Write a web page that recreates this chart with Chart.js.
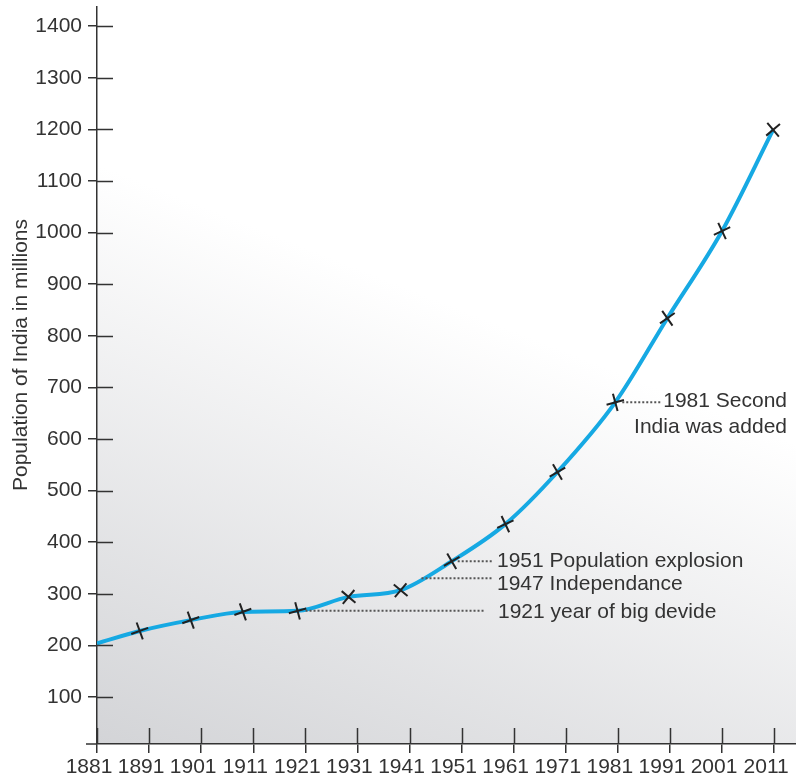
<!DOCTYPE html>
<html>
<head>
<meta charset="utf-8">
<script src="https://cdn.jsdelivr.net/npm/chart.js@4/dist/chart.umd.min.js"></script>
<style>
  html, body { margin: 0; padding: 0; background: #ffffff; }
  #wrap { width: 796px; height: 781px; position: relative; }
</style>
</head>
<body>
<div id="wrap"><canvas id="c"></canvas></div>
<script>
// ---- data ----
const censusYears = [1881, 1889.2, 1899, 1909, 1919.5, 1929.3, 1939.3, 1949.1, 1959.4, 1969.4, 1980.5, 1990.5, 2001, 2010.8];
const populationMillions = [204, 228, 249, 265, 267, 294, 307, 363, 435, 536, 671, 834, 1003, 1199];
const xTickLabels = [1881, 1891, 1901, 1911, 1921, 1931, 1941, 1951, 1961, 1971, 1981, 1991, 2001, 2011];
const yTickLabels = [100, 200, 300, 400, 500, 600, 700, 800, 900, 1000, 1100, 1200, 1300, 1400];
const yTitle = 'Population of India in millions';
const noteTexts = [
  ['1981 Second', 'India was added'],
  ['1951 Population explosion'],
  ['1947 Independance'],
  ['1921 year of big devide']
];
const noteAnchorYears = [1980.5, 1949.1, 1943.3, 1919.5];
const noteAnchorValues = [671, 363, 330, 267];

// ---- styles ----
const FONT = '"Liberation Sans", Arial, Helvetica, sans-serif';
const INK = '#333333';
const markerRotation = [0, -20, -20, -20, -15, 40, 40, -30, -25, -30, -15, -35, -25, -40];
const markerRadius = censusYears.map((y, i) => i === 0 ? 0 : 9);

const points = censusYears.map((x, i) => ({ x: x, y: populationMillions[i] }));

const decor = {
  id: 'decor',
  beforeDraw(chart) {
    const { ctx, chartArea: a } = chart;
    ctx.save();
    const g = ctx.createLinearGradient(a.left, a.bottom, a.left + 200, a.bottom - 500);
    g.addColorStop(0, '#d3d4d7');
    g.addColorStop(1, '#ffffff');
    ctx.fillStyle = g;
    ctx.fillRect(a.left, a.top, a.right - a.left, a.bottom - a.top);
    ctx.restore();
  },
  afterDraw(chart) {
    const { ctx, chartArea: a, scales } = chart;
    const xs = scales.x, ys = scales.y;
    ctx.save();
    // inner halves of the crossing tick marks
    ctx.strokeStyle = INK;
    ctx.lineWidth = 1.5;
    ctx.beginPath();
    ys.ticks.forEach(t => {
      const py = Math.round(ys.getPixelForValue(t.value)) + 0.5;
      ctx.moveTo(a.left, py); ctx.lineTo(a.left + 16, py);
    });
    xs.ticks.forEach(t => {
      const px = Math.round(xs.getPixelForValue(t.value)) + 0.5;
      ctx.moveTo(px, a.bottom); ctx.lineTo(px, a.bottom - 16);
    });
    // x-axis line running past the y-axis
    ctx.moveTo(a.left - 11, a.bottom); ctx.lineTo(a.left, a.bottom);
    ctx.stroke();

    // y axis title
    ctx.fillStyle = INK;
    ctx.font = '21px ' + FONT;
    ctx.textAlign = 'center';
    ctx.textBaseline = 'middle';
    ctx.save();
    ctx.translate(21, 355);
    ctx.rotate(-Math.PI / 2);
    ctx.fillText(yTitle, 0, 0);
    ctx.restore();

    // annotations
    const px = i => xs.getPixelForValue(noteAnchorYears[i]);
    const py = i => ys.getPixelForValue(noteAnchorValues[i]);
    const dotted = (x1, x2, y) => {
      ctx.save();
      ctx.strokeStyle = '#555555';
      ctx.lineWidth = 2;
      ctx.setLineDash([2, 2]);
      ctx.beginPath();
      ctx.moveTo(x1, y); ctx.lineTo(x2, y);
      ctx.stroke();
      ctx.restore();
    };
    ctx.textBaseline = 'middle';
    // 1981
    dotted(px(0) + 7, 662, py(0));
    ctx.textAlign = 'right';
    ctx.fillText(noteTexts[0][0], 787, py(0) - 1);
    ctx.fillText(noteTexts[0][1], 787, py(0) + 25);
    // 1951
    ctx.textAlign = 'left';
    dotted(px(1) + 6, 493, py(1));
    ctx.fillText(noteTexts[1][0], 497, py(1));
    // 1947
    dotted(px(2), 493, py(2));
    ctx.fillText(noteTexts[2][0], 497, py(2) + 6);
    // 1921
    dotted(px(3) + 8, 484, py(3));
    ctx.fillText(noteTexts[3][0], 498, py(3) + 1);
    ctx.restore();
  }
};

new Chart(document.getElementById('c'), {
  type: 'line',
  data: {
    datasets: [{
      data: points,
      borderColor: '#16a9e3',
      borderWidth: 4,
      cubicInterpolationMode: 'monotone',
      pointStyle: 'cross',
      pointRadius: markerRadius,
      pointRotation: markerRotation,
      pointBorderColor: '#222222',
      pointBorderWidth: 2,
      pointHoverRadius: markerRadius,
      fill: false
    }]
  },
  options: {
    responsive: true,
    maintainAspectRatio: false,
    animation: false,
    events: [],
    layout: { autoPadding: false, padding: { top: 7, right: 0, bottom: 0, left: 0 } },
    plugins: { legend: { display: false }, tooltip: { enabled: false } },
    scales: {
      x: {
        type: 'linear',
        min: 1881,
        max: 2015.2,
        afterBuildTicks: s => { s.ticks = xTickLabels.map(v => ({ value: v })); },
        afterFit: s => { s.height = 37; s.paddingLeft = 0; s.paddingRight = 0; },
        ticks: {
          autoSkip: false, maxRotation: 0, minRotation: 0,
          color: INK, padding: 2, labelOffset: -8,
          font: { family: FONT, size: 21 },
          callback: v => String(v)
        },
        grid: { drawOnChartArea: false, tickLength: 9, color: INK, lineWidth: 1.5 },
        border: { display: true, color: INK, width: 1.5 }
      },
      y: {
        type: 'linear',
        min: 9,
        max: 1437,
        afterBuildTicks: s => { s.ticks = yTickLabels.map(v => ({ value: v })); },
        afterFit: s => { s.width = 97; s.paddingTop = 0; s.paddingBottom = 0; },
        ticks: {
          color: INK, padding: 6,
          font: { family: FONT, size: 21 },
          callback: v => String(v)
        },
        grid: { drawOnChartArea: false, tickLength: 9, color: INK, lineWidth: 1.5 },
        border: { display: true, color: INK, width: 1.5 }
      }
    }
  },
  plugins: [decor]
});
</script>
</body>
</html>
